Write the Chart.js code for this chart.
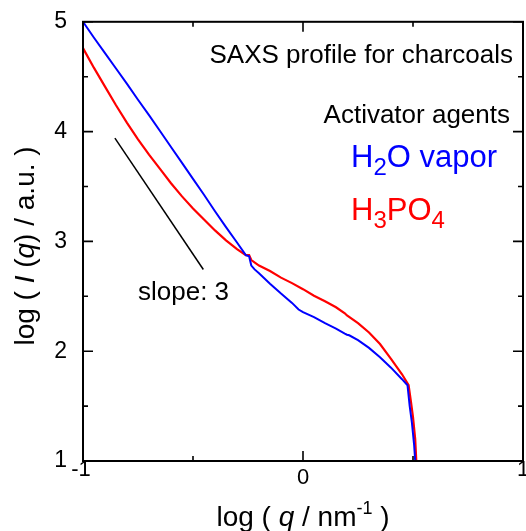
<!DOCTYPE html>
<html>
<head>
<meta charset="utf-8">
<script src="https://cdn.jsdelivr.net/npm/chart.js@4"></script>
<style>
    html, body { margin: 0; padding: 0; background: #fff; }
    #wrap { width: 526px; height: 531px; }
</style>
</head>
<body>
<div id="wrap"><canvas id="saxs"></canvas></div>
<script>
// log q (nm^-1) and log I(q)
const qBlue = [-1.00, -0.95, -0.90, -0.85, -0.80, -0.75, -0.70, -0.65, -0.60, -0.55, -0.50, -0.45, -0.40, -0.35, -0.30, -0.26, -0.245, -0.235, -0.22, -0.20, -0.15, -0.10, -0.05, -0.02, 0.00, 0.05, 0.10, 0.15, 0.19, 0.20, 0.21, 0.25, 0.30, 0.35, 0.40, 0.45, 0.475, 0.485, 0.495, 0.505, 0.51];
const iBlue = [5.00, 4.855, 4.715, 4.575, 4.435, 4.29, 4.15, 4.005, 3.86, 3.715, 3.57, 3.425, 3.275, 3.13, 2.99, 2.875, 2.865, 2.78, 2.745, 2.71, 2.615, 2.525, 2.44, 2.38, 2.355, 2.31, 2.255, 2.205, 2.16, 2.15, 2.145, 2.10, 2.03, 1.945, 1.85, 1.745, 1.69, 1.50, 1.35, 1.15, 1.00];

const qRed = [-1.00, -0.95, -0.90, -0.85, -0.80, -0.75, -0.70, -0.65, -0.60, -0.55, -0.50, -0.45, -0.40, -0.35, -0.30, -0.26, -0.245, -0.235, -0.20, -0.15, -0.10, -0.05, 0.00, 0.05, 0.10, 0.15, 0.19, 0.20, 0.25, 0.30, 0.35, 0.40, 0.45, 0.48, 0.49, 0.50, 0.51, 0.515];
const iRed = [4.76, 4.58, 4.41, 4.24, 4.08, 3.93, 3.79, 3.66, 3.53, 3.41, 3.30, 3.20, 3.10, 3.01, 2.93, 2.875, 2.875, 2.83, 2.78, 2.73, 2.67, 2.62, 2.565, 2.505, 2.455, 2.40, 2.345, 2.325, 2.255, 2.17, 2.065, 1.93, 1.79, 1.69, 1.55, 1.40, 1.20, 1.00];

// guide line, slope -3
const slopeQ = [-0.855, -0.453];
const slopeI = [3.94, 2.744];

const xTickValues = [-1, 0, 1];
const xTickLabels = ['-1', '0', '1'];
const yTickLabels = ['1', '2', '3', '4', '5'];

const FONT = "'Liberation Sans', Arial, sans-serif";

function toPoints(xs, ys) {
    return xs.map((x, i) => ({ x: x, y: ys[i] }));
}

// draws a run of text pieces (italic / sub / sup) from a starting x
function drawPieces(ctx, pieces, x, y, align) {
    let total = 0;
    pieces.forEach(p => {
        ctx.font = `${p.italic ? 'italic ' : ''}${p.size}px ${FONT}`;
        p.w = ctx.measureText(p.t).width;
        total += p.w;
    });
    let cx = x;
    if (align === 'center') cx = x - total / 2;
    if (align === 'right') cx = x - total;
    ctx.textAlign = 'left';
    ctx.textBaseline = 'alphabetic';
    pieces.forEach(p => {
        ctx.font = `${p.italic ? 'italic ' : ''}${p.size}px ${FONT}`;
        ctx.fillText(p.t, cx, y + (p.dy || 0));
        cx += p.w;
    });
}

const framePlugin = {
    id: 'frame',
    afterDatasetsDraw(chart) {
        const ctx = chart.ctx;
        const area = chart.chartArea;
        const xs = chart.scales.x;
        const ys = chart.scales.y;
        ctx.save();

        // frame
        ctx.strokeStyle = '#000';
        ctx.lineWidth = 2;
        ctx.strokeRect(area.left, area.top, area.right - area.left, area.bottom - area.top);

        // inward ticks on all four sides
        ctx.lineWidth = 1.6;
        for (let v = -1; v <= 1.001; v += 0.5) {
            const px = xs.getPixelForValue(v);
            const len = Math.abs(v % 1) < 0.01 ? 10 : 5;
            ctx.beginPath();
            ctx.moveTo(px, area.bottom); ctx.lineTo(px, area.bottom - len);
            ctx.moveTo(px, area.top); ctx.lineTo(px, area.top + len);
            ctx.stroke();
        }
        for (let v = 1; v <= 5.001; v += 0.5) {
            const py = ys.getPixelForValue(v);
            const len = Math.abs(v % 1) < 0.01 ? 10 : 5;
            ctx.beginPath();
            ctx.moveTo(area.left, py); ctx.lineTo(area.left + len, py);
            ctx.moveTo(area.right, py); ctx.lineTo(area.right - len, py);
            ctx.stroke();
        }

        // x tick labels (end labels sit a little higher, like the original)
        ctx.fillStyle = '#000';
        ctx.font = `22px ${FONT}`;
        ctx.textAlign = 'center';
        ctx.textBaseline = 'alphabetic';
        xTickValues.forEach((v, i) => {
            const px = xs.getPixelForValue(v);
            const base = v === 0 ? 484 : 476;
            ctx.fillText(xTickLabels[i], px - (v === -1 ? 2 : 0), base);
        });

        // axis titles
        drawPieces(ctx, [
            { t: 'log ( ', size: 28 },
            { t: 'q', size: 28, italic: true },
            { t: ' / nm', size: 28 },
            { t: '-1', size: 18, dy: -12 },
            { t: ' )', size: 28 }
        ], (area.left + area.right) / 2, 526, 'center');

        ctx.save();
        ctx.translate(34, 246);
        ctx.rotate(-Math.PI / 2);
        drawPieces(ctx, [
            { t: 'log ( ', size: 28 },
            { t: 'I', size: 28, italic: true },
            { t: ' (', size: 28 },
            { t: 'q', size: 28, italic: true },
            { t: ') / a.u. )', size: 28 }
        ], 0, 0, 'center');
        ctx.restore();

        // annotations
        drawPieces(ctx, [{ t: 'SAXS profile for charcoals', size: 26 }], 513, 63, 'right');
        drawPieces(ctx, [{ t: 'Activator agents', size: 26 }], 510, 123, 'right');

        ctx.fillStyle = '#0000ff';
        drawPieces(ctx, [
            { t: 'H', size: 31 },
            { t: '2', size: 24, dy: 8 },
            { t: 'O vapor', size: 31 }
        ], 351, 167, 'left');

        ctx.fillStyle = '#ff0000';
        drawPieces(ctx, [
            { t: 'H', size: 31 },
            { t: '3', size: 24, dy: 8 },
            { t: 'PO', size: 31 },
            { t: '4', size: 24, dy: 8 }
        ], 351, 220, 'left');

        ctx.fillStyle = '#000';
        drawPieces(ctx, [{ t: 'slope: 3', size: 26 }], 138, 300, 'left');

        ctx.restore();
    }
};

const ctx = document.getElementById('saxs').getContext('2d');
new Chart(ctx, {
    type: 'line',
    data: {
        datasets: [
            {
                label: 'H2O vapor',
                data: toPoints(qBlue, iBlue),
                borderColor: '#0000ff',
                borderWidth: 2,
                pointRadius: 0,
                tension: 0
            },
            {
                label: 'H3PO4',
                data: toPoints(qRed, iRed),
                borderColor: '#ff0000',
                borderWidth: 2.2,
                pointRadius: 0,
                tension: 0
            },
            {
                label: 'slope',
                data: toPoints(slopeQ, slopeI),
                borderColor: '#000',
                borderWidth: 1.5,
                pointRadius: 0,
                tension: 0
            }
        ]
    },
    options: {
        responsive: true,
        maintainAspectRatio: false,
        animation: false,
        layout: { padding: { left: 0, right: 3, top: 18, bottom: 0 } },
        plugins: {
            legend: { display: false },
            tooltip: { enabled: false }
        },
        scales: {
            x: {
                type: 'linear',
                min: -1,
                max: 1,
                grid: { display: false },
                border: { display: false },
                ticks: { display: false, stepSize: 0.5 },
                afterFit: (scale) => { scale.height = 70; }
            },
            y: {
                type: 'linear',
                min: 1,
                max: 5,
                grid: { display: false },
                border: { display: false },
                ticks: {
                    stepSize: 1,
                    padding: 8,
                    color: '#000',
                    font: { family: FONT, size: 23 },
                    callback: (v) => yTickLabels[v - 1]
                },
                afterFit: (scale) => { scale.width = 83; }
            }
        }
    },
    plugins: [framePlugin]
});
</script>
</body>
</html>
